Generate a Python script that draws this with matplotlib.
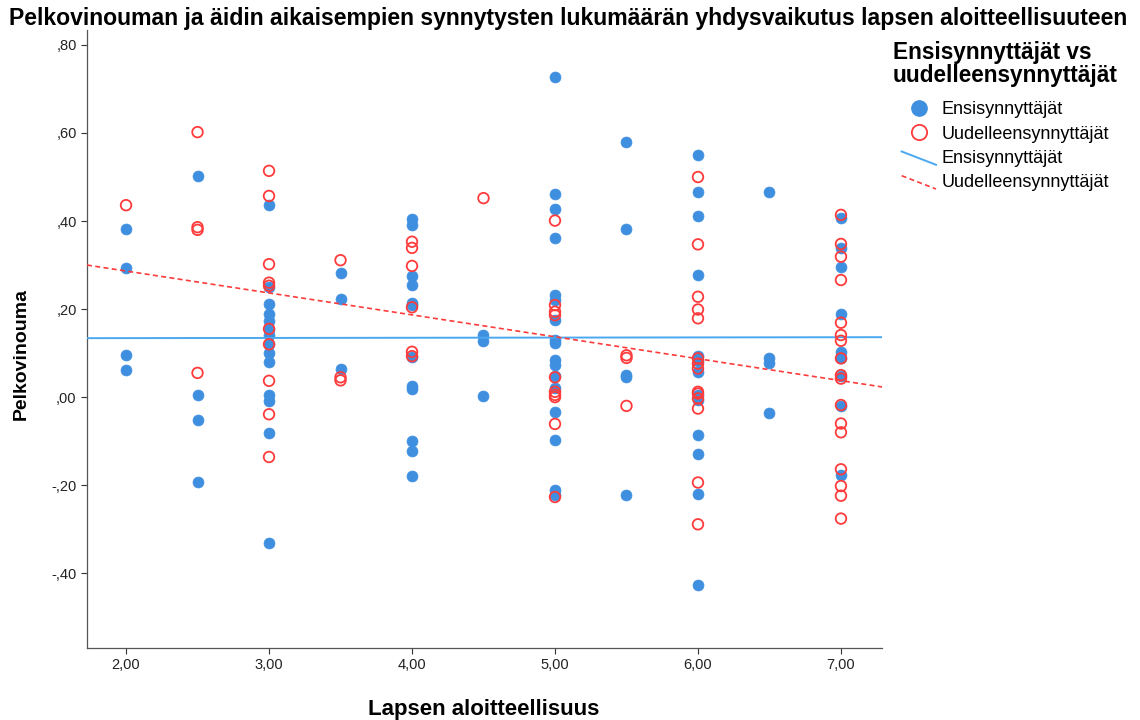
import numpy as np
import matplotlib
matplotlib.use("Agg")
import matplotlib.pyplot as plt
from matplotlib.lines import Line2D
from matplotlib.legend_handler import HandlerBase

plt.rcParams['font.family'] = ['Liberation Sans', 'DejaVu Sans']

# First-time mothers (Ensisynnyttäjät): x = child's initiative, y = skewness
blue_x = [2, 2, 2, 2,
          2.5, 2.5, 2.5, 2.5,
          3, 3, 3, 3, 3, 3, 3, 3, 3, 3, 3, 3, 3, 3,
          3.5, 3.5, 3.5,
          4, 4, 4, 4, 4, 4, 4, 4, 4, 4, 4, 4,
          4.5, 4.5, 4.5,
          5, 5, 5, 5, 5, 5, 5, 5, 5, 5, 5, 5, 5, 5, 5, 5, 5,
          5.5, 5.5, 5.5, 5.5, 5.5,
          6, 6, 6, 6, 6, 6, 6, 6, 6, 6, 6, 6, 6,
          6.5, 6.5, 6.5, 6.5,
          7, 7, 7, 7, 7, 7, 7, 7, 7]
blue_y = [0.382, 0.293, 0.095, 0.061,
          0.502, 0.005, -0.052, -0.193,
          0.436, 0.251, 0.211, 0.188, 0.173, 0.155, 0.141, 0.120, 0.101, 0.080, 0.005, -0.008, -0.081, -0.331,
          0.283, 0.222, 0.063,
          0.404, 0.391, 0.275, 0.255, 0.213, 0.209, 0.092, 0.025, 0.018, -0.100, -0.122, -0.180,
          0.141, 0.127, 0.003,
          0.728, 0.461, 0.427, 0.361, 0.232, 0.220, 0.175, 0.130, 0.122, 0.084, 0.073, 0.048, 0.020, -0.033, -0.098, -0.211, -0.222,
          0.579, 0.382, 0.050, 0.045, -0.223,
          0.551, 0.467, 0.412, 0.277, 0.093, 0.058, 0.005, -0.007, -0.086, -0.130, -0.221, -0.427, 0.082,
          0.465, 0.089, 0.078, -0.037,
          0.406, 0.338, 0.296, 0.189, 0.103, 0.088, 0.048, -0.020, -0.176]

# Repeat mothers (Uudelleensynnyttäjät)
red_x = [2,
         2.5, 2.5, 2.5, 2.5,
         3, 3, 3, 3, 3, 3, 3, 3, 3, 3,
         3.5, 3.5, 3.5,
         4, 4, 4, 4, 4, 4,
         4.5,
         5, 5, 5, 5, 5, 5, 5, 5, 5, 5,
         5.5, 5.5, 5.5,
         6, 6, 6, 6, 6, 6, 6, 6, 6, 6, 6, 6, 6, 6,
         7, 7, 7, 7, 7, 7, 7, 7, 7, 7, 7, 7, 7, 7, 7, 7, 7]
red_y = [0.436,
         0.602, 0.386, 0.380, 0.055,
         0.514, 0.457, 0.302, 0.260, 0.253, 0.155, 0.120, 0.037, -0.039, -0.136,
         0.311, 0.045, 0.038,
         0.353, 0.339, 0.298, 0.204, 0.103, 0.093,
         0.452,
         0.401, 0.209, 0.194, 0.186, 0.045, 0.012, 0.005, 0.000, -0.061, -0.227,
         0.095, 0.089, -0.020,
         0.500, 0.347, 0.228, 0.199, 0.179, 0.088, 0.076, 0.065, 0.008, -0.003, -0.026, -0.194, -0.289, 0.012,
         0.414, 0.348, 0.319, 0.266, 0.169, 0.141, 0.128, 0.088, 0.050, 0.042, -0.018, -0.060, -0.080, -0.164, -0.202, -0.224, -0.276]

# Fit lines (intercept, slope)
blue_fit = (0.1332, 0.0004)
red_fit = (0.386, -0.0498)

x_ticks = [2, 3, 4, 5, 6, 7]
x_tick_labels = ["2,00", "3,00", "4,00", "5,00", "6,00", "7,00"]
y_ticks = [-0.4, -0.2, 0.0, 0.2, 0.4, 0.6, 0.8]
y_tick_labels = ["-,40", "-,20", ",00", ",20", ",40", ",60", ",80"]

title = "Pelkovinouman ja äidin aikaisempien synnytysten lukumäärän yhdysvaikutus lapsen aloitteellisuuteen"
xlabel = "Lapsen aloitteellisuus"
ylabel = "Pelkovinouma"
legend_title = "Ensisynnyttäjät vs\nuudelleensynnyttäjät"
series_names = ["Ensisynnyttäjät", "Uudelleensynnyttäjät"]

BLUE = "#3f8fe0"
BLUE_LINE = "#4aa8f0"
RED = "#ff3b3b"


class DiagHandler(HandlerBase):
    def create_artists(self, legend, orig_handle, xdescent, ydescent,
                       width, height, fontsize, trans):
        ln = Line2D([], [])
        ln.update_from(orig_handle)
        x0 = -xdescent
        y0 = -ydescent
        ln.set_data([x0, x0 + width], [y0 + height * 0.9, y0 - height * 0.15])
        ln.set_transform(trans)
        return [ln]


fig = plt.figure(figsize=(11.4, 7.2), dpi=100)
ax = fig.add_axes([87/1140, 1 - 648/720, (882 - 87)/1140, (648 - 30)/720])

xlim = (1.727, 7.287)
ax.set_xlim(*xlim)
ax.set_ylim(-0.57, 0.834)

xs = np.array(xlim)
ax.plot(xs, blue_fit[0] + blue_fit[1] * xs, color=BLUE_LINE, lw=1.4, zorder=3)
ax.plot(xs, red_fit[0] + red_fit[1] * xs, color=RED, lw=1.2, ls=(0, (3, 2)), zorder=3)

ax.scatter(blue_x, blue_y, s=62, c=BLUE, edgecolors=BLUE, linewidths=0.5, zorder=2)
ax.scatter(red_x, red_y, s=58, facecolors='none', edgecolors=RED, linewidths=1.3, zorder=4)

ax.set_xticks(x_ticks)
ax.set_xticklabels(x_tick_labels, fontsize=10.5)
ax.set_yticks(y_ticks)
ax.set_yticklabels(y_tick_labels, fontsize=10.5)
ax.tick_params(axis='both', length=4, color='#333333', labelcolor='#222222')
for s in ['top', 'right']:
    ax.spines[s].set_visible(False)
for s in ['left', 'bottom']:
    ax.spines[s].set_color('#555555')
    ax.spines[s].set_linewidth(0.9)

ax.set_xlabel(xlabel, fontsize=16, fontweight='bold')
ax.xaxis.set_label_coords((484 - 87) / 795, -(709 - 648) / 618)
ax.xaxis.label.set_va('center')
ax.set_ylabel(ylabel, fontsize=14, fontweight='bold')
ax.yaxis.set_label_coords(-(87 - 21) / 795, (648 - 354) / 618)
ax.yaxis.label.set_va('center')
fig.text(568/1140, 1 - 18/720, title, ha='center', va='center', fontsize=16.6, fontweight='bold')

handles = [
    Line2D([], [], ls='none', marker='o', markersize=11, markerfacecolor=BLUE, markeredgecolor=BLUE),
    Line2D([], [], ls='none', marker='o', markersize=11, markerfacecolor='none', markeredgecolor=RED, markeredgewidth=1.3),
    Line2D([], [], color=BLUE_LINE, lw=1.4),
    Line2D([], [], color=RED, lw=1.2, ls=(0, (3, 2))),
]
labels = series_names + series_names
leg = fig.legend(handles, labels, loc='upper left', bbox_to_anchor=(882/1140, 1 - 30/720),
                 frameon=False, fontsize=13, title=legend_title,
                 title_fontproperties={'weight': 'bold', 'size': 16.3},
                 handler_map={handles[2]: DiagHandler(), handles[3]: DiagHandler()},
                 handlelength=1.9, handletextpad=0.3, labelspacing=0.4, borderpad=0.1)
leg._legend_box.align = "center"
leg._legend_box.sep = 10.5
leg.get_title().set_linespacing(1.0)

fig.savefig("out.png", dpi=100)
